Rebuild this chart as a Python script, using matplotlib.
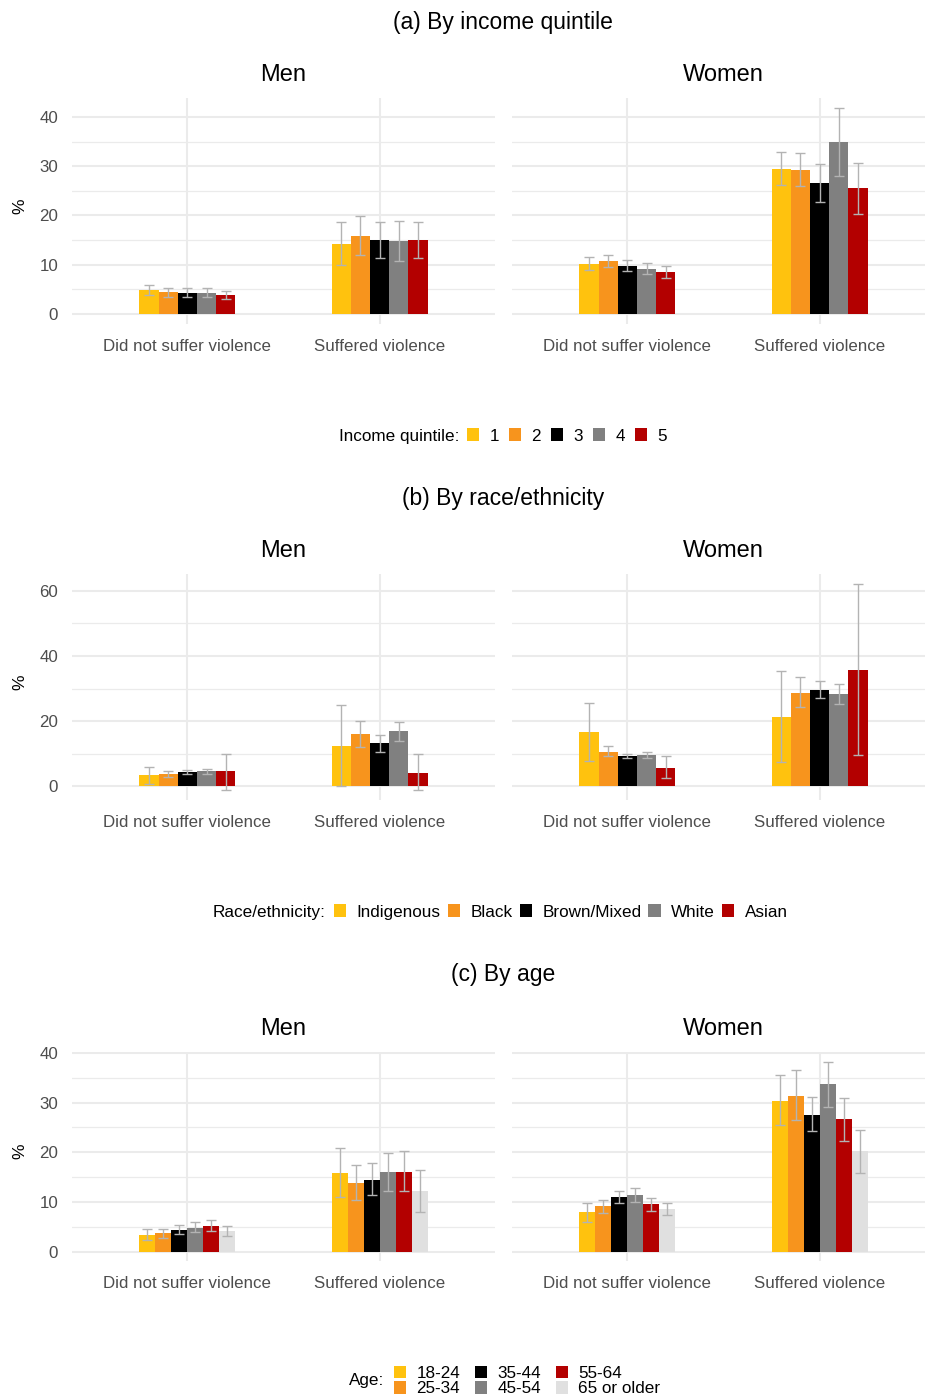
import numpy as np
import matplotlib
matplotlib.use("Agg")
import matplotlib.pyplot as plt
from matplotlib.patches import Patch
from matplotlib.ticker import MultipleLocator

plt.rcParams['font.family'] = ['Liberation Sans', 'DejaVu Sans']

# ---- data ----

violence_cats = ["Did not suffer violence", "Suffered violence"]
genders = ["Men", "Women"]

# (a) income quintile : [not suffered, suffered] x quintiles
income_groups = ["1", "2", "3", "4", "5"]
income_men = [[4.9, 4.4, 4.3, 4.3, 3.9], [14.2, 15.9, 15.0, 14.8, 15.0]]
income_men_lo = [[3.9, 3.5, 3.4, 3.5, 2.9], [9.9, 12.0, 11.4, 10.8, 11.4]]
income_men_hi = [[5.9, 5.3, 5.2, 5.2, 4.7], [18.6, 19.8, 18.6, 18.8, 18.6]]
income_women = [[10.2, 10.7, 9.8, 9.2, 8.5], [29.5, 29.2, 26.6, 34.9, 25.5]]
income_women_lo = [[8.9, 9.5, 8.6, 8.1, 7.2], [26.2, 25.9, 22.8, 28.1, 20.3]]
income_women_hi = [[11.5, 11.9, 11.0, 10.3, 9.7], [32.9, 32.7, 30.5, 41.8, 30.6]]

# (b) race / ethnicity
race_groups = ["Indigenous", "Black", "Brown/Mixed", "White", "Asian"]
race_men = [[3.4, 3.9, 4.3, 4.7, 4.6], [12.5, 16.2, 13.3, 17.0, 4.0]]
race_men_lo = [[0.7, 2.9, 3.7, 3.9, -1.0], [0.0, 12.1, 10.6, 13.9, -1.0]]
race_men_hi = [[6.1, 4.7, 4.9, 5.3, 10.1], [25.0, 20.2, 15.8, 19.9, 10.1]]
race_women = [[16.7, 10.5, 9.4, 9.7, 5.8], [21.4, 28.8, 29.7, 28.3, 35.8]]
race_women_lo = [[7.7, 9.2, 8.6, 8.7, 2.6], [7.5, 24.5, 27.0, 25.3, 9.6]]
race_women_hi = [[25.6, 12.4, 10.1, 10.6, 9.2], [35.5, 33.5, 32.3, 31.4, 62.0]]

# (c) age
age_groups = ["18-24", "25-34", "35-44", "45-54", "55-64", "65 or older"]
age_men = [[3.4, 3.7, 4.4, 4.8, 5.2, 4.1], [15.9, 13.8, 14.5, 16.1, 16.1, 12.2]]
age_men_lo = [[2.3, 2.7, 3.5, 3.9, 4.1, 3.1], [10.9, 10.3, 11.3, 12.2, 12.2, 7.9]]
age_men_hi = [[4.5, 4.6, 5.4, 5.9, 6.4, 5.2], [20.9, 17.4, 17.8, 19.8, 20.2, 16.5]]
age_women = [[7.9, 9.1, 11.0, 11.3, 9.6, 8.6], [30.4, 31.4, 27.6, 33.7, 26.7, 20.2]]
age_women_lo = [[6.0, 7.8, 9.8, 9.9, 8.2, 7.4], [25.5, 26.5, 24.3, 29.2, 22.3, 15.8]]
age_women_hi = [[9.8, 10.4, 12.2, 12.7, 10.7, 9.8], [35.5, 36.6, 31.2, 38.3, 31.0, 24.4]]

colors5 = ["#ffc20e", "#f7941d", "#000000", "#808080", "#b30000"]
colors6 = colors5 + ["#e0e0e0"]

# ---- layout (pixels) ----
W, H = 925, 1397
fig = plt.figure(figsize=(W / 100, H / 100), dpi=100)

grid_col = '#ebebeb'
err_col = '#b3b3b3'
txt_col = '#4d4d4d'


def fx(x):
    return x / W


def fy(y):
    return 1 - y / H


def panel(title, title_y, top, bot, groups, colors, data, major, minor,
          leg_title, leg_title_right, leg_left, leg_y, ncol, colsp):
    fig.text(fx(503), fy(title_y), title, ha='center', va='center',
             fontsize=16.5, color='black')
    all_lo = min(0, min(min(min(r) for r in d[1]) for d in data))
    all_hi = max(max(max(r) for r in d[2]) for d in data)
    pad = 0.05 * (all_hi - all_lo)
    n = len(groups)
    bw = 0.5 / n
    offs = (np.arange(n) - (n - 1) / 2) * bw
    for k, (gname, left) in enumerate(zip(genders, [72, 512])):
        est, lo, hi = [np.array(a) for a in data[k]]
        ax = fig.add_axes([fx(left), fy(bot), 423 / W, (bot - top) / H])
        for ci in range(2):
            xs = ci + 1 + offs
            ax.bar(xs, est[ci], width=bw, color=colors, zorder=2)
            ax.errorbar(xs, est[ci], yerr=[est[ci] - lo[ci], hi[ci] - est[ci]],
                        fmt='none', ecolor=err_col, elinewidth=1.0,
                        capsize=3.4, capthick=1.0, zorder=3)
        ax.set_xlim(0.4, 2.6)
        ax.set_ylim(all_lo - pad, all_hi + pad)
        ax.set_xticks([1, 2])
        ax.set_xticklabels(violence_cats)
        ax.yaxis.set_major_locator(MultipleLocator(major))
        ax.yaxis.set_minor_locator(MultipleLocator(minor))
        ax.grid(which='major', color=grid_col, lw=1.5, zorder=0)
        ax.grid(which='minor', axis='y', color=grid_col, lw=0.9, zorder=0)
        ax.set_axisbelow(True)
        for s in ax.spines.values():
            s.set_visible(False)
        ax.tick_params(which='both', length=0, labelsize=12.2, labelcolor=txt_col)
        ax.tick_params(axis='x', pad=11)
        ax.tick_params(axis='y', pad=10)
        if k == 1:
            ax.set_yticklabels([])
        fig.text(fx(left + 211.5), fy(top - 23), gname, ha='center',
                 va='center', fontsize=17, color='black')
    fig.text(fx(20), fy((top + bot) / 2 - 5), '%', rotation=90, ha='center',
             va='center', fontsize=12.5, color='black')

    # legend
    fig.text(fx(leg_title_right), fy(leg_y), leg_title, ha='right',
             va='center', fontsize=12.3, color='black')
    handles = [Patch(facecolor=c, edgecolor='none') for c in colors]
    fig.legend(handles, groups, loc='center left',
               bbox_to_anchor=(fx(leg_left), fy(leg_y)), ncol=ncol,
               frameon=False, fontsize=12.3, handlelength=0.72,
               handleheight=0.72, handletextpad=0.6, columnspacing=colsp,
               labelspacing=0.05, borderpad=0, borderaxespad=0)


panel("(a) By income quintile", 22, 98, 324, income_groups, colors5,
      [(income_men, income_men_lo, income_men_hi),
       (income_women, income_women_lo, income_women_hi)],
      10, 5, "Income quintile:", 459, 467, 436, 5, 0.58)

panel("(b) By race/ethnicity", 499, 574, 800, race_groups, colors5,
      [(race_men, race_men_lo, race_men_hi),
       (race_women, race_women_lo, race_women_hi)],
      20, 10, "Race/ethnicity:", 326, 334, 912, 5, 0.42)

panel("(c) By age", 975, 1052, 1261, age_groups, colors6,
      [(age_men, age_men_lo, age_men_hi),
       (age_women, age_women_lo, age_women_hi)],
      10, 5, "Age:", 384, 394, 1381, 3, 0.85)

fig.savefig("out.png", dpi=100, facecolor='white')
